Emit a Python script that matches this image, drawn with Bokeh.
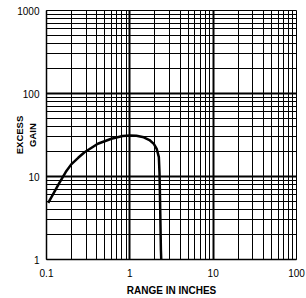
from bokeh.plotting import figure
from bokeh.models import FixedTicker, Range1d
from bokeh.embed import file_html
from bokeh.resources import INLINE

# Data
range_in = [0.105, 0.141, 0.17, 0.198, 0.24, 0.286, 0.413, 0.6, 0.82, 1.0, 1.2, 1.47, 1.72, 1.94, 2.1, 2.23, 2.27, 2.29, 2.32, 2.36, 2.40]
excess_gain = [4.8, 8.2, 11.3, 14.0, 16.8, 19.6, 24.8, 28.5, 30.8, 31.2, 31.0, 29.7, 27.5, 24.7, 21.5, 17.1, 11.0, 7.4, 3.5, 1.3, 0.8]

x_ticks = [0.1, 1, 10, 100]
x_tick_labels = ["0.1", "1", "10", "100"]
y_ticks = [1, 10, 100, 1000]
y_tick_labels = ["1", "10", "100", "1000"]

x_minor = [m * d for d in [0.1, 1, 10] for m in range(2, 10)]
y_minor = [m * d for d in [1, 10, 100] for m in range(2, 10)]

FONT = "Liberation Sans"

p = figure(
    x_axis_type="log", y_axis_type="log",
    x_range=Range1d(0.1, 100), y_range=Range1d(1, 1000),
    frame_width=250, frame_height=249,
    min_border_left=46, min_border_right=10, min_border_top=10, min_border_bottom=39,
    output_backend="svg", toolbar_location=None,
)
p.background_fill_color = "white"
p.border_fill_color = "white"
p.outline_line_color = "black"
p.outline_line_width = 1

for ax, ticks, labels, minor in [(p.xaxis[0], x_ticks, x_tick_labels, x_minor),
                                 (p.yaxis[0], y_ticks, y_tick_labels, y_minor)]:
    ax.ticker = FixedTicker(ticks=ticks, minor_ticks=minor)
    ax.major_label_overrides = {t: l for t, l in zip(ticks, labels)}
    ax.major_tick_out = 0
    ax.major_tick_in = 0
    ax.minor_tick_out = 0
    ax.minor_tick_in = 0
    ax.axis_line_color = "black"
    ax.axis_line_width = 1.5
    ax.major_label_text_font = FONT
    ax.major_label_text_font_size = "10px"
    ax.major_label_text_color = "black"
    ax.axis_label_text_font = FONT
    ax.axis_label_text_font_style = "bold"
    ax.axis_label_text_color = "black"

p.xaxis.major_label_standoff = 9
p.yaxis.major_label_standoff = 7

p.xaxis.axis_label = "RANGE IN INCHES"
p.xaxis.axis_label_text_font_size = "10px"
p.xaxis.axis_label_standoff = 5

p.yaxis.axis_label = "EXCESS\nGAIN"
p.yaxis.axis_label_text_font_size = "9.5px"
p.yaxis.axis_label_standoff = -24

for g in [p.xgrid[0], p.ygrid[0]]:
    g.grid_line_color = "black"
    g.grid_line_width = 2
    g.minor_grid_line_color = "black"
    g.minor_grid_line_width = 1

p.line(range_in, excess_gain, line_color="black", line_width=2.5)

open("out.html", "w").write(file_html(p, INLINE))
